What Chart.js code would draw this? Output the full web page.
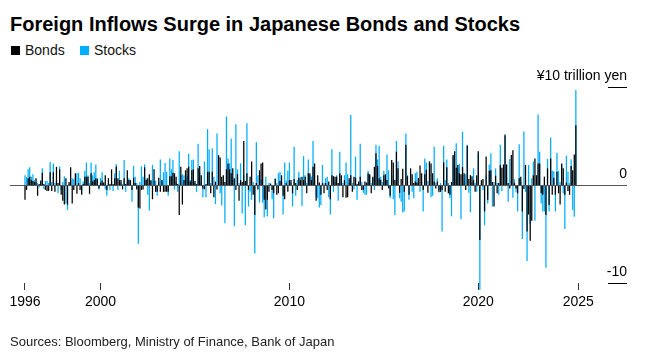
<!DOCTYPE html>
<html>
<head>
<meta charset="utf-8">
<script src="https://cdn.jsdelivr.net/npm/chart.js@4.4.1/dist/chart.umd.min.js"></script>
<style>
html,body{margin:0;padding:0;background:#fff;width:660px;height:357px;overflow:hidden;}
body{position:relative;font-family:"Liberation Sans",Arial,Helvetica,sans-serif;color:#000;}
#c{position:absolute;left:0;top:0;}
.t{position:absolute;white-space:nowrap;line-height:1;}
#title{left:10px;top:14px;font-size:20px;font-weight:bold;color:#000;}
.lg{top:43px;font-size:14px;color:#111;}
.sw{position:absolute;top:46px;width:9px;height:9px;}
#src{left:10px;top:335px;font-size:13px;color:#222;}
</style>
</head>
<body>
<div class="t" id="title">Foreign Inflows Surge in Japanese Bonds and Stocks</div>
<div class="sw" style="left:11px;background:#000;"></div>
<div class="t lg" style="left:25px;">Bonds</div>
<div class="sw" style="left:80px;background:#00aeff;"></div>
<div class="t lg" style="left:94px;">Stocks</div>
<canvas id="c" width="660" height="357"></canvas>
<div class="t" id="src">Sources: Bloomberg, Ministry of Finance, Bank of Japan</div>
<script>
// Monthly net foreign purchases, trillion yen, Jan 1996 .. Mar 2025
const startYear = 1996;
const bonds = [
-1.5,-0.5,0.7,0.85,0.5,0.4,0.3,0.7,-1.1,0.1,
0.45,1.25,0.1,-0.5,-0.6,-0.6,1.3,-0.6,1.3,-0.7,
1.85,0.2,1.6,-1.0,-1.6,-2.0,0.7,-2.0,0.3,1.8,
-1.9,-0.5,1.2,-0.9,0.2,-0.5,-1.0,0.1,0.85,0.85,
0.85,-0.9,1.2,0.35,0.5,0.7,0.6,-0.35,0.25,0.45,
0.25,1.0,-0.5,0.7,0.1,1.6,0.1,0.7,1.9,0.7,
0.5,0.5,-0.45,0.7,0.1,1.5,0.5,0.5,-0.5,0.75,
0.2,-0.45,-2.3,-2.4,-0.5,-0.45,1.8,0.5,0.7,1.1,
0.45,-1.45,1.6,-0.7,-0.7,0.75,-0.7,0.5,-0.7,-0.7,
-0.7,-0.7,0.9,0.9,1.25,1.2,0.85,0.1,-3.05,1.85,
-2.0,0.5,1.5,1.7,1.85,0.35,1.5,1.6,0.4,0.1,
1.7,1.95,1.0,-0.35,-0.45,0.1,1.35,1.35,-0.85,1.35,
-1.25,0.35,-0.45,3.05,2.8,0.85,1.0,0.3,1.6,2.2,
1.6,1.2,1.7,0.7,-0.5,1.1,-1.6,0.5,0.3,4.5,
0.4,1.2,-0.5,0.85,2.4,-1.0,-3.05,0.2,-0.45,1.5,
2.2,2.3,-1.5,-2.5,-1.5,-0.7,0.1,-0.5,-0.85,0.6,
-1.0,-0.85,0.4,1.0,-1.1,-1.45,0.2,-0.7,0.5,0.5,
-0.85,0.6,0.2,-0.5,0.75,0.5,0.85,0.5,0.85,-0.85,
1.2,1.2,0.5,1.85,2.2,-1.6,1.0,0.25,-1.0,0.2,
-0.85,0.2,-0.5,0.35,-1.45,1.0,0.9,0.85,0.85,0.2,
1.2,1.0,-1.25,0.5,-1.3,-1.25,0.7,1.0,-0.7,0.85,
0.75,0.1,0.35,0.85,-0.5,-0.5,0.35,0.25,1.2,1.1,
-0.85,0.85,1.85,3.25,1.95,0.7,0.5,-0.5,1.0,1.1,
0.5,-0.35,-1.1,2.55,2.3,0.5,3.4,1.7,-0.8,0.6,
1.65,-0.7,4.1,0.9,-1.0,1.7,1.1,0.2,0.35,0.25,
0.7,2.0,1.2,-0.5,1.1,1.55,-0.8,2.4,2.2,1.2,
0.35,-0.35,0.35,-0.75,-0.7,-0.5,2.3,-0.7,1.8,-0.85,
-1.0,0.3,3.05,3.45,1.75,2.05,1.2,1.1,1.85,1.2,
-0.5,4.0,0.6,1.0,0.9,0.5,-0.7,1.0,3.45,-5.6,
0.5,0.6,-2.7,2.9,-1.5,1.45,1.5,0.3,-2.2,0.95,
-0.85,0.2,2.05,1.75,2.1,5.15,2.1,0.2,-0.35,3.05,
3.55,0.2,-0.35,-0.85,0.7,0.85,-2.7,-0.4,2.05,-4.75,
-3.0,-5.7,-3.65,1.0,2.7,1.0,2.2,2.2,-0.85,-1.0,
0.85,-3.05,1.7,-2.05,2.7,-1.0,0.75,-1.0,1.35,-0.85,
-2.0,2.2,1.7,-1.0,0.25,-0.6,-1.0,1.95,1.5,3.1,6.1
];
const stocks = [
1.0,0.8,1.6,1.8,0.85,1.1,0.5,0.3,0.2,-0.25,
0.2,1.7,-0.4,0.4,0.4,0.2,2.35,0.3,2.2,0.2,
0.5,-0.85,1.9,-0.5,0.3,0.9,-1.9,-2.55,0.1,0.4,
0.7,0.6,0.3,1.2,1.25,0.7,-0.85,0.35,1.45,2.3,
1.0,0.2,2.3,1.0,1.3,2.1,0.7,-0.45,0.7,1.3,
0.1,-0.45,-1.1,0.2,-0.5,0.4,-0.6,1.2,2.15,-0.5,
1.45,0.2,0.1,2.55,-0.7,0.3,0.7,0.35,-1.7,1.95,
0.85,0.2,-6.0,0.3,1.9,0.85,2.1,0.7,-1.0,-2.6,
0.5,2.05,0.4,0.45,-1.1,0.3,2.6,0.35,1.3,2.25,
1.35,-1.1,2.7,1.6,2.55,-0.45,0.3,-0.7,3.45,1.0,
1.1,1.0,0.4,0.9,3.2,0.5,2.55,2.6,0.2,-0.7,
4.2,1.2,0.3,-1.25,2.4,-1.25,5.7,3.65,0.2,3.75,
0.85,-1.95,5.25,2.9,-0.85,-2.1,0.3,-3.9,7.0,2.7,
2.2,4.75,0.5,-4.2,6.2,1.6,0.2,2.2,-2.9,1.0,
-4.1,6.3,-2.2,-0.7,-1.5,0.3,-7.0,4.35,1.0,-1.8,
0.5,-1.8,-3.3,0.85,-3.2,0.2,0.2,-1.45,-3.4,0.7,
0.2,1.2,1.35,0.3,-3.0,2.3,0.45,1.45,2.3,0.2,
-2.2,3.9,-1.1,0.5,1.35,0.8,-2.15,2.95,1.0,0.2,
2.6,1.0,0.85,4.5,0.4,-1.2,-1.35,-2.3,-2.05,2.05,
0.2,0.7,0.85,-1.25,-3.0,3.65,-0.7,0.3,1.0,-1.6,
3.4,0.5,0.2,1.0,2.3,1.1,0.2,7.15,0.2,-0.45,
2.9,-1.5,0.2,4.2,0.3,-0.8,-1.0,-1.0,1.45,1.0,
0.2,0.7,-0.5,4.1,2.6,4.0,0.85,0.3,1.45,0.3,
3.1,1.5,-1.35,1.0,-1.45,-3.05,4.5,2.4,-1.35,-1.7,
-2.8,-2.7,5.25,1.0,-1.5,1.2,-0.7,-1.35,1.2,1.35,
0.5,-0.7,0.3,-2.7,2.7,2.3,0.4,2.4,-1.25,-1.1,
3.9,0.2,0.7,-0.5,0.2,-4.75,4.0,0.5,2.6,0.2,
-1.35,-3.2,2.9,0.5,4.25,1.7,2.15,-3.5,5.45,0.4,
1.1,4.1,-0.8,-2.8,0.3,1.7,0.2,-0.7,3.2,-10.7,
0.2,-0.5,-4.1,1.0,-1.9,2.1,3.25,-2.2,0.3,1.7,
0.2,-1.0,4.1,-0.6,0.5,5.0,0.8,-1.7,2.65,0.5,
-1.3,0.6,-0.75,-2.7,4.15,0.3,-5.5,5.45,-0.7,-7.75,
2.05,-4.0,0.7,2.4,-3.65,0.5,7.2,3.4,-1.9,-2.7,
-2.7,-8.45,2.65,-2.7,4.85,1.45,1.4,-2.7,3.3,1.45,
0.3,2.1,-0.85,-4.5,3.0,1.35,0.2,2.6,-2.55,-3.25,9.7
];
// x-axis ticks (months since Jan 1996) and their labels
const xTickMonths = [0, 48, 168, 288, 351.5];
const xTickLabels = ['1996', '2000', '2010', '2020', '2025'];
// y-axis ticks and labels (drawn at right, above their lines)
const yTickValues = [10, 0, -10];
const yTickLabels = ['¥10 trillion yen', '0', '-10'];

const FONT = '"Liberation Sans", Arial, Helvetica, sans-serif';
Chart.defaults.font.family = FONT;

const toPoints = arr => arr.map((v, i) => ({ x: i, y: v }));

const rightAxisPlugin = {
  id: 'rightAxis',
  afterDatasetsDraw(chart) {
    const { ctx, chartArea: a, scales } = chart;
    const y = scales.y;
    ctx.save();
    ctx.lineWidth = 1;
    const y0 = Math.round(y.getPixelForValue(0)) + 0.5;
    ctx.strokeStyle = '#555';
    ctx.beginPath(); ctx.moveTo(a.left, y0); ctx.lineTo(a.right, y0); ctx.stroke();
    ctx.font = '14px ' + FONT;
    ctx.fillStyle = '#000';
    ctx.textAlign = 'right';
    ctx.textBaseline = 'alphabetic';
    yTickValues.forEach((v, i) => {
      const py = Math.round(y.getPixelForValue(v)) + 0.5;
      if (v !== 0) {
        ctx.strokeStyle = '#000';
        ctx.beginPath(); ctx.moveTo(a.right - 19, py); ctx.lineTo(a.right, py); ctx.stroke();
      }
      ctx.fillText(yTickLabels[i], a.right, py - 8);
    });
    ctx.restore();
  }
};

const pad = { left: 10, top: 87, right: 33, bottom: 46 };
const chart = new Chart(document.getElementById('c'), {
  type: 'bar',
  data: {
    datasets: [
      { label: 'Bonds', data: toPoints(bonds), backgroundColor: '#000000', clip: false,
        grouped: false, barPercentage: 0.8, categoryPercentage: 1 },
      { label: 'Stocks', data: toPoints(stocks), backgroundColor: '#00aeff', clip: false,
        grouped: false, barPercentage: 0.8, categoryPercentage: 1 }
    ]
  },
  options: {
    responsive: false,
    animation: false,
    devicePixelRatio: 1,
    layout: { padding: pad },
    plugins: { legend: { display: false }, title: { display: false }, tooltip: { enabled: false } },
    scales: {
      x: {
        type: 'linear',
        min: -9.53,
        max: 382.5,
        offset: false,
        afterBuildTicks: axis => { axis.ticks = xTickMonths.map(v => ({ value: v })); },
        grid: { display: true, offset: false, drawOnChartArea: false, drawTicks: true, tickLength: 7, color: '#333', lineWidth: 1 },
        border: { display: false },
        ticks: {
          autoSkip: false, maxRotation: 0, minRotation: 0, padding: 4,
          color: '#000', font: { size: 14, family: FONT },
          callback: v => { const i = xTickMonths.indexOf(v); return i >= 0 ? xTickLabels[i] : ''; }
        }
      },
      y: { display: false, min: -10, max: 10 }
    }
  },
  plugins: [rightAxisPlugin]
});
// fit the plot area to the reference frame
const target = { left: 10, top: 87, right: 627, bottom: 283 };
const ca = chart.chartArea;
pad.top += target.top - ca.top;
pad.bottom += ca.bottom - target.bottom;
pad.left += target.left - ca.left;
pad.right += ca.right - target.right;
chart.options.layout.padding = pad;
chart.update();
</script>
</body>
</html>
